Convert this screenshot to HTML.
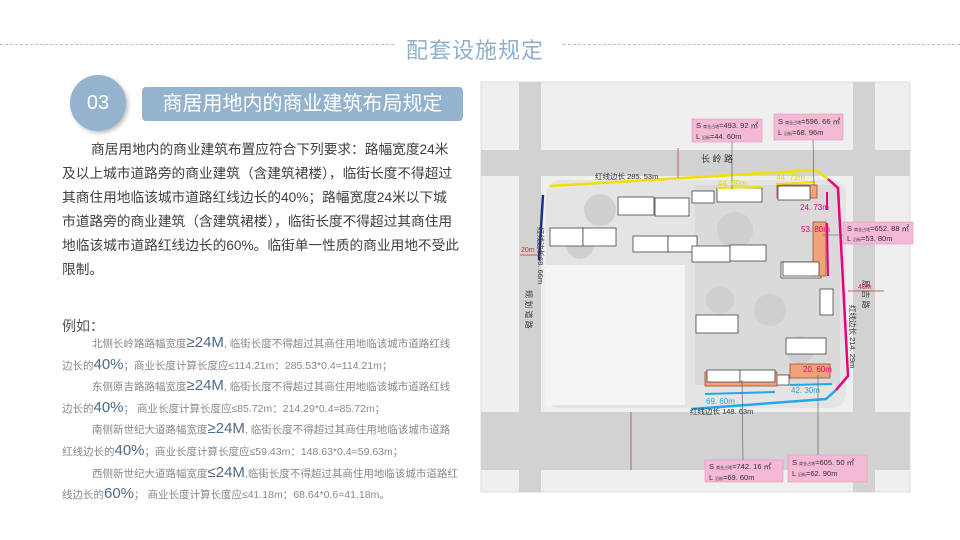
<!DOCTYPE html>
<html><head><meta charset="utf-8"><style>
*{margin:0;padding:0}
body{width:960px;height:540px;background:#fff;position:relative;overflow:hidden;font-family:"Liberation Sans","Noto Sans CJK SC",sans-serif}
.abs{position:absolute}
.dash{border-top:1.5px dashed #a9c4dc;height:0}
.title{left:406px;top:33px;font-size:22px;color:#8fafcb;letter-spacing:1px}
.circle{left:70px;top:75px;width:56px;height:56px;border-radius:50%;background:#94b3cf;box-shadow:2px 2px 4px #bbb;color:#fff;font-size:20px;line-height:56px;text-align:center}
.bar{left:142px;top:87px;width:321px;height:34px;border-radius:4px;background:#94b3cf;color:#fff;font-size:20px;line-height:34px;text-align:center}
.para{left:62px;top:138px;width:410px;font-size:13.7px;line-height:24px;color:#404040;white-space:nowrap}
.ex{left:62px;top:316px;font-size:14px;color:#555}
.small{left:62px;top:333px;width:410px;font-size:10.5px;line-height:20.6px;color:#888;white-space:nowrap}
.small b{font-weight:normal;font-size:15px;color:#4d6a86}
</style></head><body>
<div class="abs dash" style="left:0;top:44px;width:394px"></div>
<div class="abs dash" style="left:563px;top:44px;width:397px"></div>
<div class="abs title">配套设施规定</div>
<div class="abs circle">03</div>
<div class="abs bar">商居用地内的商业建筑布局规定</div>
<div class="abs para"><span style="padding-left:29px">商居用地内的商业建筑布置应符合下列要求：路幅宽度24米</span><br>及以上城市道路旁的商业建筑（含建筑裙楼），临街长度不得超过<br>其商住用地临该城市道路红线边长的40%；路幅宽度24米以下城<br>市道路旁的商业建筑（含建筑裙楼），临街长度不得超过其商住用<br>地临该城市道路红线边长的60%。临街单一性质的商业用地不受此<br>限制。</div>
<div class="abs ex">例如：</div>
<div class="abs small">
<div style="padding-left:30px">北侧长岭路路幅宽度<b>≥24M</b>, 临街长度不得超过其商住用地临该城市道路红线</div>
<div>边长的<b>40%</b>；商业长度计算长度应≤114.21m：285.53*0.4=114.21m；</div>
<div style="padding-left:30px">东侧原吉路路幅宽度<b>≥24M</b>, 临街长度不得超过其商住用地临该城市道路红线</div>
<div>边长的<b>40%</b>； 商业长度计算长度应≤85.72m：214.29*0.4=85.72m；</div>
<div style="padding-left:30px">南侧新世纪大道路幅宽度<b>≥24M</b>, 临街长度不得超过其商住用地临该城市道路</div>
<div>红线边长的<b>40%</b>；商业长度计算长度应≤59.43m：148.63*0.4=59.63m；</div>
<div style="padding-left:30px">西侧新世纪大道路幅宽度<b>≤24M</b>,临街长度不得超过其商住用地临该城市道路红</div>
<div>线边长的<b>60%</b>； 商业长度计算长度应≤41.18m：68.64*0.6=41.18m。</div>
</div>
<svg class="abs" style="left:0;top:0" width="960" height="540" font-family="Liberation Sans,Noto Sans CJK SC,sans-serif">
<rect x="481" y="82" width="429" height="410" fill="#efefef" stroke="#ddd"/>
<g fill="#d2d2d2">
<rect x="481" y="150" width="429" height="26"/>
<rect x="519" y="82" width="22" height="410"/>
<rect x="853" y="82" width="22" height="410"/>
<rect x="481" y="412" width="429" height="58"/>
</g>
<rect x="546" y="180" width="300" height="228" rx="14" fill="#e4e4e4"/>
<rect x="545" y="265" width="140" height="140" fill="#f4f4f4"/>
<rect x="695" y="185" width="145" height="200" fill="#dadada"/>
<g fill="#cfcfcf"><circle cx="735" cy="230" r="18"/><circle cx="770" cy="310" r="16"/><circle cx="720" cy="300" r="14"/><circle cx="800" cy="350" r="14"/><circle cx="600" cy="210" r="16"/><circle cx="580" cy="245" r="14"/></g>
<g fill="#fff" stroke="#444" stroke-width="0.8">
<rect x="618" y="197" width="36" height="18"/><rect x="655" y="198" width="34" height="18"/>
<rect x="550" y="228" width="33" height="18"/><rect x="583" y="228" width="33" height="18"/>
<rect x="633" y="236" width="35" height="16"/><rect x="668" y="236" width="29" height="16"/>
<rect x="692" y="191" width="22" height="12"/><rect x="717" y="188" width="45" height="14"/>
<rect x="692" y="246" width="38" height="16"/><rect x="730" y="245" width="36" height="16"/>
<rect x="696" y="315" width="42" height="18"/>
<rect x="781" y="262" width="40" height="16"/>
<rect x="786" y="338" width="40" height="16"/>
<rect x="820" y="289" width="13" height="26"/>
<rect x="777" y="375" width="12" height="10"/>
</g>
<g fill="#f0a27a" stroke="#a05030" stroke-width="0.8">
<rect x="777" y="185" width="40" height="13"/>
<rect x="813" y="222" width="13" height="54"/>
<rect x="705" y="372" width="72" height="14"/>
<rect x="790" y="364" width="40" height="14"/>
</g>
<g fill="#fff" stroke="#444" stroke-width="0.8"><rect x="778" y="186" width="32" height="14"/><rect x="783" y="262" width="36" height="14"/><rect x="707" y="370" width="33" height="12"/><rect x="740" y="370" width="35" height="12"/></g>
<polyline points="550,186 816,170 828,179" fill="none" stroke="#f0e000" stroke-width="2.5"/>
<polyline points="828,179 838,188 848,376 836,390" fill="none" stroke="#e6007e" stroke-width="2.5"/>
<polyline points="692,409 826,399 836,390" fill="none" stroke="#22a8e8" stroke-width="2.5"/>
<polyline points="543,195 539,260" fill="none" stroke="#1a2f8a" stroke-width="2.5"/>
<line x1="717" y1="188" x2="762" y2="187" stroke="#f0e000" stroke-width="2"/>
<line x1="776" y1="184" x2="815" y2="182" stroke="#f0e000" stroke-width="2"/>
<line x1="827" y1="192" x2="827" y2="210" stroke="#e6007e" stroke-width="2"/>
<line x1="827" y1="223" x2="828" y2="276" stroke="#e6007e" stroke-width="2"/>
<line x1="705" y1="394" x2="775" y2="392" stroke="#22a8e8" stroke-width="2"/>
<line x1="790" y1="385" x2="832" y2="384" stroke="#22a8e8" stroke-width="2"/>
<g stroke="#555" stroke-width="0.6">
<line x1="732" y1="142" x2="732" y2="190"/><line x1="813" y1="140" x2="814" y2="186"/>
<line x1="843" y1="235" x2="823" y2="235"/><line x1="742" y1="380" x2="743" y2="460"/>
<line x1="818" y1="375" x2="818" y2="455"/>
</g>
<g stroke="#c03030" stroke-width="0.7"><line x1="678" y1="148" x2="678" y2="178"/><line x1="520" y1="255" x2="540" y2="255"/><line x1="848" y1="291" x2="884" y2="291"/><line x1="631" y1="412" x2="631" y2="470"/></g>
<g font-size="7.5" fill="#333">
<text x="701" y="162" font-size="9">长 岭 路</text>
<text x="595" y="179">红线边长 285. 53m</text>
<text x="690" y="414">红线边长 148. 63m</text>
<text transform="translate(850,305) rotate(90)">红线边长 214. 29m</text>
<text transform="translate(538,227) rotate(90)">红线边长68. 66m</text>
<text transform="translate(526,290) rotate(90)" font-size="8">规 划 道 路</text>
<text transform="translate(863,280) rotate(90)" font-size="8">原 吉 路</text>
</g>
<g font-size="7" fill="#c03030"><text x="521" y="252">20m</text><text x="858" y="289">40m</text></g>
<g font-size="8"><text x="718" y="186" fill="#e8d800">44. 60m</text><text x="776" y="180" fill="#e8d800">44. 73m</text>
<text x="801" y="232" fill="#e6007e">53. 80m</text><text x="800" y="210" fill="#e6007e">24. 73m</text>
<text x="803" y="372" fill="#e6007e">20. 60m</text>
<text x="706" y="404" fill="#22a8e8">69. 60m</text><text x="791" y="393" fill="#22a8e8">42. 30m</text></g>
<g fill="#f4b9d4" stroke="#e08ab0" stroke-width="0.5">
<rect x="692" y="119" width="70" height="23"/><rect x="774" y="114" width="69" height="26"/>
<rect x="843" y="222" width="70" height="22"/><rect x="705" y="460" width="78" height="22"/><rect x="788" y="455" width="79" height="27"/>
</g>
<g font-size="7.5" fill="#333">
<text x="696" y="128">S <tspan font-size="4">商业占地</tspan>=493. 92 ㎡</text><text x="696" y="139">L <tspan font-size="4">沿街</tspan>=44. 60m</text>
<text x="778" y="124">S <tspan font-size="4">商业占地</tspan>=596. 66 ㎡</text><text x="778" y="135">L <tspan font-size="4">沿街</tspan>=68. 96m</text>
<text x="847" y="231">S <tspan font-size="4">商业占地</tspan>=652. 88 ㎡</text><text x="847" y="241">L <tspan font-size="4">沿街</tspan>=53. 80m</text>
<text x="709" y="469">S <tspan font-size="4">商业占地</tspan>=742. 16 ㎡</text><text x="709" y="480">L <tspan font-size="4">沿街</tspan>=69. 60m</text>
<text x="792" y="465">S <tspan font-size="4">商业占地</tspan>=605. 50 ㎡</text><text x="792" y="476">L <tspan font-size="4">沿街</tspan>=62. 90m</text>
</g>
</svg>
</body></html>
